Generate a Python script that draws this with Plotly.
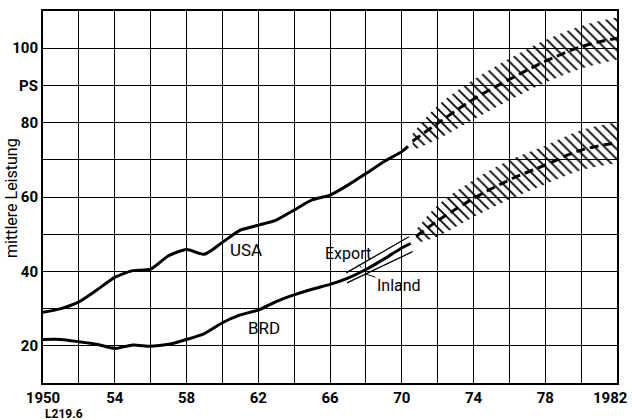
import plotly.graph_objects as go

# ---------------- data ----------------
hist_years_usa = [1950, 1951, 1952, 1953, 1954, 1955, 1956, 1957, 1958, 1959, 1960,
                  1961, 1962, 1963, 1964, 1965, 1966, 1967, 1968, 1969, 1970, 1970.35]
usa_hist = [29.0, 30.0, 31.8, 35.0, 38.4, 40.2, 40.6, 44.2, 45.9, 44.6, 47.8,
            51.1, 52.4, 53.8, 56.5, 59.2, 60.5, 63.2, 66.3, 69.5, 72.2, 73.6]

hist_years_brd = [1950, 1951, 1952, 1953, 1954, 1955, 1956, 1957, 1958, 1959, 1960,
                  1961, 1962, 1963, 1964, 1965, 1966, 1967, 1968, 1969, 1970, 1970.5]
brd_hist = [21.7, 21.7, 21.1, 20.4, 19.3, 20.2, 19.9, 20.4, 21.7, 23.3, 26.2,
            28.3, 29.6, 31.9, 33.7, 35.2, 36.5, 38.2, 40.5, 43.3, 46.3, 47.5]

export_years = [1966.9, 1968, 1969, 1970, 1970.4]
export_vals = [39.6, 42.7, 45.5, 48.2, 49.3]
inland_years = [1966.95, 1968, 1969, 1970, 1970.6]
inland_vals = [36.9, 39.3, 41.7, 44.0, 45.3]

usa_fc_years = [1970.6, 1972, 1974, 1976, 1978, 1980, 1982]
usa_fc = [75.0, 79.8, 86.3, 91.6, 96.5, 100.4, 102.7]
usa_fc_upper = [77.0, 84.5, 91.5, 97.2, 102.2, 106.0, 108.3]
usa_fc_lower = [72.5, 75.5, 80.8, 86.0, 90.7, 94.5, 96.9]

brd_fc_years = [1970.8, 1972, 1974, 1976, 1978, 1980, 1982]
brd_fc = [49.4, 53.6, 59.6, 64.6, 68.6, 72.6, 74.6]
brd_fc_upper = [51.2, 57.8, 64.6, 69.9, 73.8, 78.0, 80.1]
brd_fc_lower = [47.6, 49.4, 54.6, 59.3, 63.4, 67.2, 69.1]

x_grid = list(range(1950, 1983, 2))
x_labels = {1950: "1950", 1954: "54", 1958: "58", 1962: "62", 1966: "66",
            1970: "70", 1974: "74", 1978: "78"}
x_last_label = "1982"
y_grid = list(range(10, 111, 10))
y_labels = {20: "20", 40: "40", 60: "60", 80: "80", 90: "PS", 100: "100"}

# ---------------- figure ----------------
FONT = "Roboto, Liberation Sans, sans-serif"
fig = go.Figure()


def band(xs, lo, hi):
    fig.add_trace(go.Scatter(x=xs, y=lo, mode="lines", line=dict(width=0),
                             line_shape="spline",
                             showlegend=False, hoverinfo="skip"))
    fig.add_trace(go.Scatter(x=xs, y=hi, mode="lines", line=dict(width=0),
                             line_shape="spline",
                             fill="tonexty", fillcolor="rgba(0,0,0,0)",
                             fillpattern=dict(shape="\\", size=7, solidity=0.25,
                                              fgcolor="black", bgcolor="rgba(0,0,0,0)",
                                              fillmode="replace"),
                             showlegend=False, hoverinfo="skip"))


band(usa_fc_years, usa_fc_lower, usa_fc_upper)
band(brd_fc_years, brd_fc_lower, brd_fc_upper)

thick = dict(color="black", width=3, shape="spline", smoothing=0.6)
fig.add_trace(go.Scatter(x=hist_years_usa, y=usa_hist, mode="lines", line=thick,
                         showlegend=False))
fig.add_trace(go.Scatter(x=hist_years_brd, y=brd_hist, mode="lines", line=thick,
                         showlegend=False))
fig.add_trace(go.Scatter(x=export_years, y=export_vals, mode="lines",
                         line=dict(color="black", width=1.3), showlegend=False))
fig.add_trace(go.Scatter(x=inland_years, y=inland_vals, mode="lines",
                         line=dict(color="black", width=1.3), showlegend=False))
dash = dict(color="black", width=3, dash="9px,5px", shape="spline")
fig.add_trace(go.Scatter(x=usa_fc_years, y=usa_fc, mode="lines", line=dash,
                         showlegend=False))
fig.add_trace(go.Scatter(x=brd_fc_years, y=brd_fc, mode="lines", line=dash,
                         showlegend=False))

lab_font = dict(family=FONT, size=17, color="black")
fig.add_annotation(x=1961.3, y=45.8, text="USA", showarrow=False, font=lab_font)
fig.add_annotation(x=1962.3, y=24.8, text="BRD", showarrow=False, font=lab_font)
fig.add_annotation(x=1967.75, y=41.0, ax=-13, ay=-14, text="Export",
                   showarrow=True, arrowhead=0, arrowwidth=1, arrowcolor="black",
                   font=dict(family=FONT, size=16, color="black"))
fig.add_annotation(x=1968.0, y=39.3, ax=33, ay=11, text="Inland",
                   showarrow=True, arrowhead=0, arrowwidth=1, arrowcolor="black",
                   font=dict(family=FONT, size=16, color="black"))
fig.add_annotation(xref="paper", yref="paper", x=-0.056, y=0.497,
                   xanchor="center", yanchor="middle",
                   text="mittlere Leistung", textangle=-90, showarrow=False,
                   font=dict(family=FONT, size=16, color="black"))
fig.add_annotation(xref="paper", yref="paper", x=0.0, y=-0.083, xanchor="left",
                   yanchor="middle", text="L219.6", showarrow=False,
                   font=dict(family=FONT, size=12, color="black", weight="bold"))

tick_font = dict(family=FONT, size=15, color="black", weight="bold")
# last x label kept inside the page (right-aligned near the right edge)
fig.add_annotation(xref="paper", yref="paper", x=1.0235, y=-0.04,
                   xanchor="right", yanchor="middle", text=x_last_label,
                   showarrow=False, font=tick_font)

axis_common = dict(showgrid=True, gridcolor="black", gridwidth=1.3,
                   showline=True, linecolor="black", linewidth=2, mirror=True,
                   zeroline=False, ticks="", automargin=False, tickfont=tick_font)
fig.update_xaxes(range=[1950, 1982], tickmode="array", tickvals=x_grid,
                 ticktext=[x_labels.get(v, "") for v in x_grid], **axis_common)
fig.update_yaxes(range=[10, 110], tickmode="array", tickvals=y_grid,
                 ticktext=[y_labels.get(v, "") for v in y_grid], **axis_common)

fig.update_layout(width=632, height=420, margin=dict(l=43, r=15, t=11, b=37),
                  paper_bgcolor="white", plot_bgcolor="white", showlegend=False)

fig.write_html("out.html")
